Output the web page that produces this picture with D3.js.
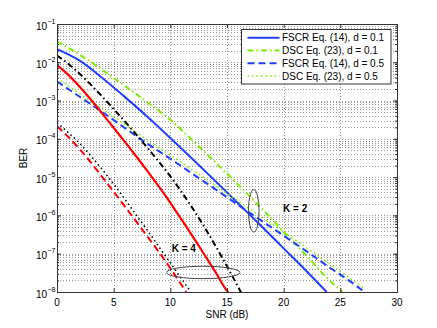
<!DOCTYPE html>
<html>
<head>
<meta charset="utf-8">
<script src="https://cdn.jsdelivr.net/npm/d3@7"></script>
<style>
body { margin: 0; background: #fff; }
text { font-family: "Liberation Sans", Arial, sans-serif; }
</style>
</head>
<body>
<svg id="chart"></svg>
<script>
// tick labels
let snrTicks = [0, 5, 10, 15, 20, 25, 30]
let berExponents = [-1, -2, -3, -4, -5, -6, -7, -8]

// K = 2 curves
let fscrD01K2Snr = [0, 2, 4, 6, 8, 10, 12, 14, 16, 18, 20, 22, 23.8]
let fscrD01K2Ber = [2.19e-2, 1.10e-2, 3.89e-3, 1.23e-3, 3.72e-4, 1.05e-4, 2.88e-5, 7.76e-6, 2.04e-6, 5.37e-7, 1.38e-7, 3.55e-8, 1.0e-8]
let dscD01K2Snr = [0, 2, 4, 6, 8, 10, 12, 14, 16, 18, 20, 22, 24, 25.2]
let dscD01K2Ber = [3.47e-2, 1.58e-2, 6.31e-3, 2.40e-3, 8.91e-4, 3.16e-4, 8.91e-5, 2.40e-5, 6.31e-6, 1.58e-6, 3.80e-7, 8.91e-8, 2.09e-8, 1.0e-8]
let fscrD05K2Snr = [0, 2, 4, 6, 8, 10, 12, 14, 16, 18, 20, 22, 24, 26, 27]
let fscrD05K2Ber = [3.16e-3, 1.26e-3, 5.01e-4, 1.91e-4, 7.41e-5, 3.02e-5, 1.20e-5, 4.79e-6, 1.86e-6, 7.41e-7, 2.95e-7, 1.17e-7, 4.47e-8, 1.78e-8, 1.07e-8]
let dscD05K2Snr = [0, 2, 4, 6, 8, 10, 12, 14, 16, 18, 20, 22, 24, 26, 27]
let dscD05K2Ber = [3.80e-3, 1.51e-3, 6.03e-4, 2.34e-4, 9.33e-5, 3.80e-5, 1.51e-5, 6.03e-6, 2.34e-6, 9.33e-7, 3.72e-7, 1.45e-7, 5.50e-8, 2.14e-8, 1.32e-8]

// K = 4 curves
let fscrD01K4Snr = [0, 1, 2, 3, 4, 5, 6, 7, 8, 9, 10, 11, 12, 13, 14, 15, 15.2]
let fscrD01K4Ber = [8.51e-3, 4.68e-3, 2.29e-3, 1.05e-3, 4.57e-4, 1.95e-4, 8.32e-5, 3.47e-5, 1.41e-5, 5.62e-6, 2.14e-6, 7.76e-7, 2.75e-7, 9.55e-8, 3.24e-8, 1.07e-8, 9.1e-9]
let dscD01K4Snr = [0, 1, 2, 3, 4, 5, 6, 7, 8, 9, 10, 11, 12, 13, 14, 15, 16, 16.4]
let dscD01K4Ber = [1.51e-2, 9.12e-3, 5.01e-3, 2.57e-3, 1.26e-3, 6.03e-4, 2.82e-4, 1.29e-4, 5.75e-5, 2.51e-5, 1.05e-5, 4.07e-6, 1.48e-6, 5.01e-7, 1.58e-7, 4.68e-8, 1.32e-8, 7.9e-9]
let fscrD05K4Snr = [0, 1, 2, 3, 4, 5, 6, 7, 8, 9, 10, 11, 11.4]
let fscrD05K4Ber = [2.14e-4, 1.12e-4, 5.37e-5, 2.40e-5, 1.0e-5, 4.17e-6, 1.70e-6, 6.92e-7, 2.75e-7, 1.10e-7, 4.17e-8, 1.51e-8, 1.0e-8]
let dscD05K4Snr = [0, 1, 2, 3, 4, 5, 6, 7, 8, 9, 10, 11, 11.7]
let dscD05K4Ber = [2.63e-4, 1.45e-4, 7.59e-5, 3.55e-5, 1.58e-5, 6.61e-6, 2.63e-6, 1.02e-6, 3.98e-7, 1.51e-7, 5.75e-8, 2.19e-8, 1.12e-8]

let legendLabels = ["FSCR Eq. (14), d = 0.1", "DSC Eq. (23), d = 0.1", "FSCR Eq. (14), d = 0.5", "DSC Eq. (23), d = 0.5"]

let width = 437
let height = 328
let padLeft = 57, padRight = 397, padTop = 24, padBottom = 292

let blue = "#2040ff"
let green = "#77ee00"

let styles = {
    solid: "none",
    dashed: "7,4",
    dashdot: "6,3,1.5,3",
    dotted: "1.5,3"
}

let series = [
    { snr: fscrD01K2Snr, ber: fscrD01K2Ber, color: blue, dash: styles.solid, w: 2 },
    { snr: dscD01K2Snr, ber: dscD01K2Ber, color: green, dash: styles.dashdot, w: 2 },
    { snr: fscrD05K2Snr, ber: fscrD05K2Ber, color: blue, dash: styles.dashed, w: 2 },
    { snr: dscD05K2Snr, ber: dscD05K2Ber, color: green, dash: styles.dotted, w: 1.5 },
    { snr: fscrD01K4Snr, ber: fscrD01K4Ber, color: "#ff0000", dash: styles.solid, w: 2.2 },
    { snr: dscD01K4Snr, ber: dscD01K4Ber, color: "#000", dash: styles.dashdot, w: 2 },
    { snr: fscrD05K4Snr, ber: fscrD05K4Ber, color: "#ff0000", dash: styles.dashed, w: 2 },
    { snr: dscD05K4Snr, ber: dscD05K4Ber, color: "#000", dash: styles.dotted, w: 1.5 }
]

let svg = d3.select("#chart").attr("width", width).attr("height", height)

let xScale = d3.scaleLinear().domain([0, 30]).range([padLeft, padRight])
let yScale = d3.scaleLog().domain([1e-8, 1e-1]).range([padBottom, padTop])

// grid
let minorBer = []
berExponents.slice(1).forEach((e) => {
    for (let m = 1; m < 10; m++) minorBer.push(m * Math.pow(10, e))
})
let grid = svg.append("g")
    .attr("stroke", "#000")
    .attr("stroke-opacity", 0.4)
    .attr("stroke-dasharray", "1,2")
    .attr("shape-rendering", "crispEdges")
grid.selectAll(".hgrid")
    .data(minorBer.filter((v) => v > 1.01e-8))
    .enter()
    .append("line")
    .attr("x1", padLeft).attr("x2", padRight)
    .attr("y1", (d) => Math.round(yScale(d)) + 0.5)
    .attr("y2", (d) => Math.round(yScale(d)) + 0.5)
grid.selectAll(".vgrid")
    .data(snrTicks.slice(1, -1))
    .enter()
    .append("line")
    .attr("y1", padTop).attr("y2", padBottom)
    .attr("x1", (d) => Math.round(xScale(d)) + 0.5)
    .attr("x2", (d) => Math.round(xScale(d)) + 0.5)

// curves
svg.append("clipPath").attr("id", "clip")
    .append("rect").attr("x", padLeft).attr("y", padTop).attr("width", padRight - padLeft).attr("height", padBottom - padTop)

let line = d3.line()
    .x((d) => xScale(d[0]))
    .y((d) => yScale(d[1]))
    .curve(d3.curveMonotoneX)

svg.append("g")
    .attr("clip-path", "url(#clip)")
    .selectAll("path")
    .data(series)
    .enter()
    .append("path")
    .attr("d", (s) => line(s.snr.map((v, i) => [v, s.ber[i]])))
    .attr("fill", "none")
    .attr("stroke", (s) => s.color)
    .attr("stroke-width", (s) => s.w)
    .attr("stroke-dasharray", (s) => s.dash)

// axes (ticks inward on all four sides)
let xAxisBottom = d3.axisBottom(xScale).tickValues(snrTicks).tickSize(-4).tickFormat("")
let xAxisTop = d3.axisTop(xScale).tickValues(snrTicks).tickSize(-4).tickFormat("")
let yMajor = berExponents.map((e) => Math.pow(10, e))
let yAxisLeft = d3.axisLeft(yScale).tickValues(yMajor).tickSize(-4).tickFormat("")
let yAxisRight = d3.axisRight(yScale).tickValues(yMajor).tickSize(-4).tickFormat("")
let yMinorLeft = d3.axisLeft(yScale).tickValues(minorBer).tickSize(-2).tickFormat("")
let yMinorRight = d3.axisRight(yScale).tickValues(minorBer).tickSize(-2).tickFormat("")

let addAxis = (axis, tx, ty) => {
    let g = svg.append("g").attr("transform", "translate(" + tx + "," + ty + ")").call(axis)
    g.selectAll("line").attr("stroke", "#333")
    g.select(".domain").remove()
}
addAxis(xAxisBottom, 0, padBottom)
addAxis(xAxisTop, 0, padTop)
addAxis(yAxisLeft, padLeft, 0)
addAxis(yAxisRight, padRight, 0)
addAxis(yMinorLeft, padLeft, 0)
addAxis(yMinorRight, padRight, 0)

svg.append("rect")
    .attr("x", padLeft + 0.5).attr("y", padTop + 0.5)
    .attr("width", padRight - padLeft).attr("height", padBottom - padTop)
    .attr("fill", "none").attr("stroke", "#333")

// tick labels
svg.append("g").selectAll("text")
    .data(snrTicks)
    .enter()
    .append("text")
    .attr("x", (d) => xScale(d))
    .attr("y", padBottom + 14)
    .attr("text-anchor", "middle")
    .attr("font-size", 10)
    .text((d) => d)

svg.append("g").selectAll("text")
    .data(berExponents)
    .enter()
    .append("text")
    .attr("x", 47)
    .attr("y", (e) => yScale(Math.pow(10, e)) + 5.5)
    .attr("font-size", 10)
    .attr("text-anchor", "end")
    .text("10")
svg.append("g").selectAll("text")
    .data(berExponents)
    .enter()
    .append("text")
    .attr("x", 47.5)
    .attr("y", (e) => yScale(Math.pow(10, e)) - 0.5)
    .attr("font-size", 7)
    .text((e) => "\u2212" + Math.abs(e))

svg.append("text")
    .attr("x", xScale(15)).attr("y", 318)
    .attr("text-anchor", "middle").attr("font-size", 10)
    .text("SNR (dB)")
svg.append("text")
    .attr("transform", "translate(27," + ((padTop + padBottom) / 2) + ") rotate(-90)")
    .attr("text-anchor", "middle").attr("font-size", 10)
    .text("BER")

// annotations
let ellipses = [
    { snr: 17.36, ber: 1.32e-6, rx: 5.3, ry: 21.2 },
    { snr: 12.9, ber: 3.24e-8, rx: 36.7, ry: 6.2 }
]
svg.append("g").selectAll("ellipse")
    .data(ellipses)
    .enter()
    .append("ellipse")
    .attr("cx", (d) => xScale(d.snr))
    .attr("cy", (d) => yScale(d.ber))
    .attr("rx", (d) => d.rx)
    .attr("ry", (d) => d.ry)
    .attr("fill", "none")
    .attr("stroke", "#444")
    .attr("stroke-width", 1)

let kLabels = [
    { snr: 19.95, ber: 1.2e-6, text: "K = 2" },
    { snr: 10.12, ber: 1.1e-7, text: "K = 4" }
]
svg.append("g").selectAll("text")
    .data(kLabels)
    .enter()
    .append("text")
    .attr("x", (d) => xScale(d.snr))
    .attr("y", (d) => yScale(d.ber))
    .attr("font-size", 10)
    .attr("font-weight", "bold")
    .text((d) => d.text)

// legend
let legend = svg.append("g")
legend.append("rect")
    .attr("x", 241.5).attr("y", 29.5).attr("width", 149.5).attr("height", 54.5)
    .attr("fill", "#fff").attr("stroke", "#333")
let legendRows = legend.selectAll(".row")
    .data(series.slice(0, 4))
    .enter()
    .append("g")
    .attr("transform", (s, i) => "translate(0," + (37.7 + i * 12.8) + ")")
legendRows.append("line")
    .attr("x1", 247.5).attr("x2", 279.5)
    .attr("stroke", (s) => s.color)
    .attr("stroke-width", (s) => s.w)
    .attr("stroke-dasharray", (s) => s.dash)
legendRows.append("text")
    .attr("x", 282)
    .attr("y", 3.6)
    .attr("font-size", 10)
    .text((s, i) => legendLabels[i])
</script>
</body>
</html>
